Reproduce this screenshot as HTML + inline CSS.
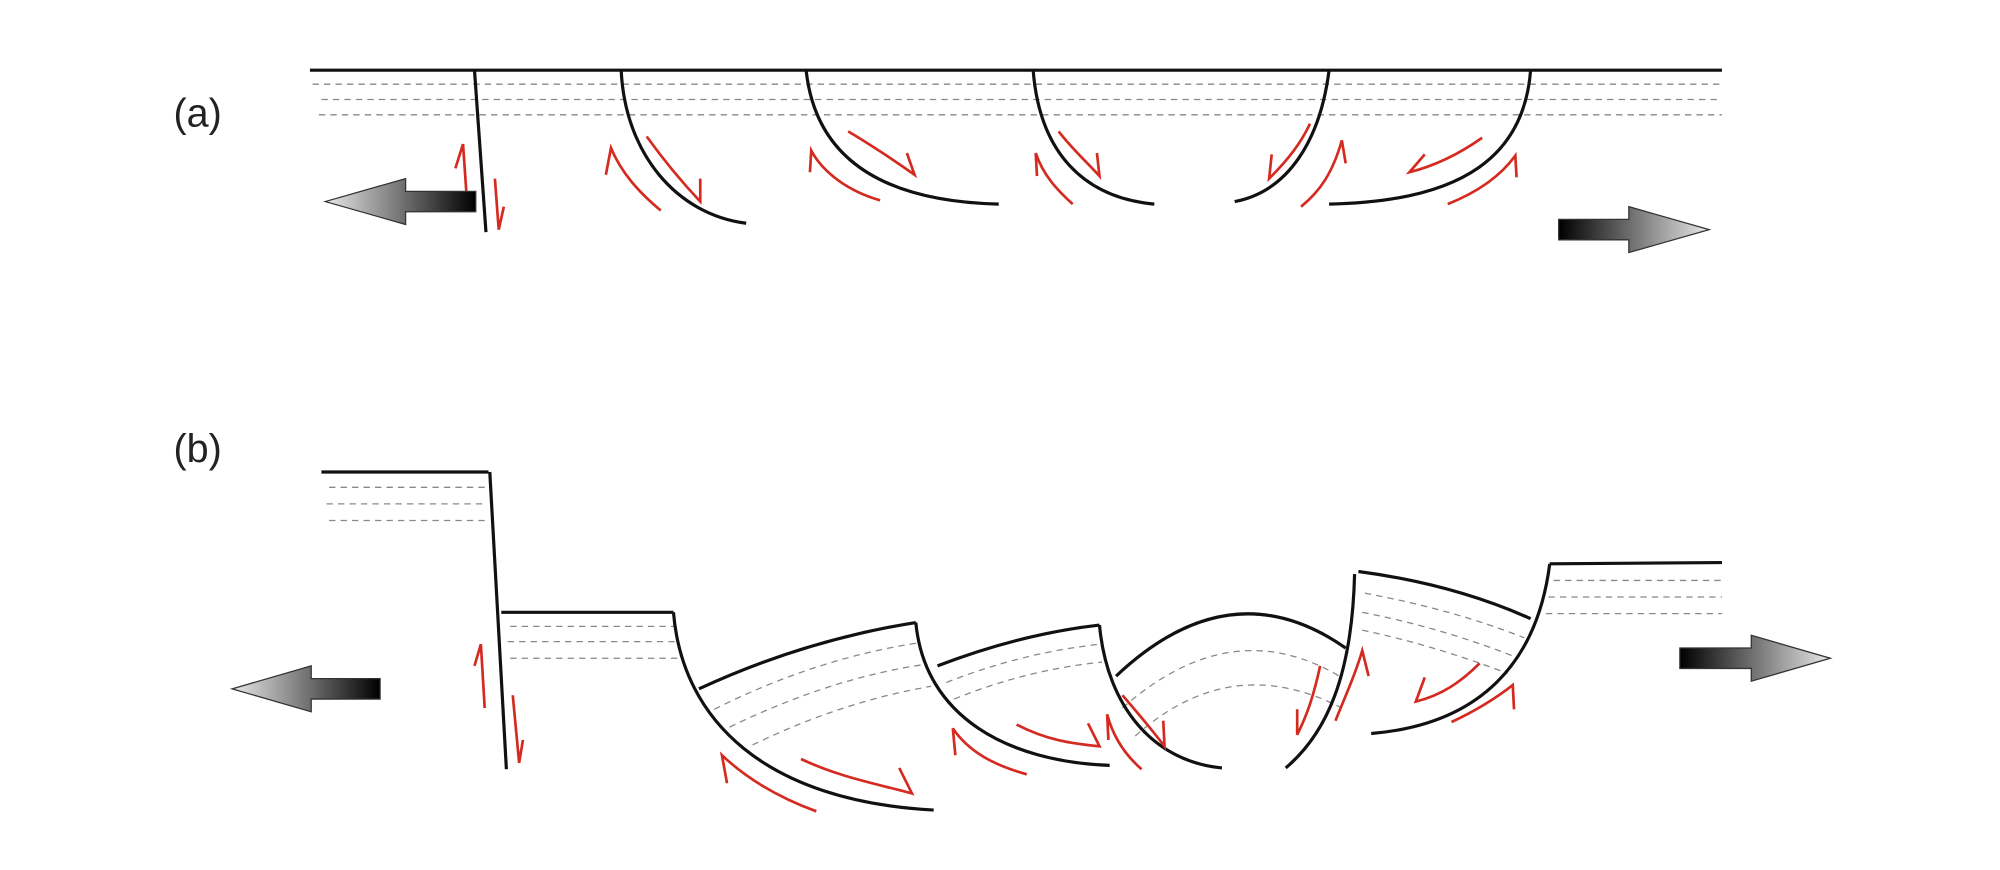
<!DOCTYPE html>
<html><head><meta charset="utf-8"><style>
html,body{margin:0;padding:0;background:#fff;width:2000px;height:870px;overflow:hidden}
svg{display:block}
</style></head><body>
<svg width="2000" height="870" viewBox="0 0 1568 682" preserveAspectRatio="none" xmlns="http://www.w3.org/2000/svg">
<defs>
<linearGradient id="gl" x1="0" x2="1" y1="0" y2="0"><stop offset="0" stop-color="#e8e8e8"/><stop offset="1" stop-color="#000"/></linearGradient>
<linearGradient id="gr" x1="0" x2="1" y1="0" y2="0"><stop offset="0" stop-color="#000"/><stop offset="1" stop-color="#e8e8e8"/></linearGradient>
</defs>
<g font-family="Liberation Sans, sans-serif" font-size="31" fill="#222">
<text x="136" y="99">(a)</text>
<text x="136" y="362">(b)</text>
</g>
<!-- (a) -->
<g fill="none" stroke="#888" stroke-width="1" stroke-dasharray="5,4">
<line x1="245" y1="66" x2="1350" y2="66"/>
<line x1="252" y1="78" x2="1350" y2="78"/>
<line x1="250" y1="90" x2="1350" y2="90"/>
</g>
<g fill="none" stroke="#111" stroke-width="2.5">
<line x1="243" y1="55" x2="1350" y2="55"/>
<line x1="372" y1="55" x2="381" y2="182"/>
<path d="M487,55 C490,120 530,168 585,175"/>
<path d="M632,55 C640,130 700,158 783,160"/>
<path d="M810,55 C815,120 850,155 905,160"/>
<path d="M968,158 C1010,150 1035,110 1042,55"/>
<path d="M1200,55 C1195,120 1150,158 1042,160"/>
</g>
<g fill="none" stroke="#d42a20" stroke-width="2.1">
<path d="M366,156 L363,113 L357,132"/>
<path d="M388,140 L391,180 L395,162"/>
<path d="M518,165 C500,150 487,135 479,116 L475,137"/>
<path d="M507,107 C520,125 532,140 549,158 L549,140"/>
<path d="M690,157 C665,150 645,135 636,118 L635,135"/>
<path d="M665,103 C685,115 700,125 717,137 L711,120"/>
<path d="M841,160 C830,150 818,138 812,120 L813,138"/>
<path d="M830,103 C840,116 850,125 862,138 L860,120"/>
<path d="M1027,97 C1020,112 1010,125 995,140 L997,121"/>
<path d="M1020,162 C1035,150 1045,135 1052,110 L1055,128"/>
<path d="M1162,108 C1145,120 1125,130 1105,135 L1117,121"/>
<path d="M1135,160 C1155,152 1175,140 1188,122 L1189,139"/>
</g>
<polygon points="255,158 318,140 318,150 373,150 373,166 318,166 318,176" fill="url(#gl)" stroke="#333" stroke-width="1"/>
<polygon points="1340,180 1277,162 1277,172 1222,172 1222,188 1277,188 1277,198" fill="url(#gr)" stroke="#333" stroke-width="1"/>
<!-- (b) -->
<g fill="none" stroke="#888" stroke-width="1" stroke-dasharray="5,4">
<line x1="258" y1="382" x2="381" y2="382"/>
<line x1="256" y1="395" x2="382" y2="395"/>
<line x1="258" y1="408" x2="383" y2="408"/>
<line x1="400" y1="491" x2="529" y2="491"/>
<line x1="398" y1="503" x2="531" y2="503"/>
<line x1="400" y1="516" x2="534" y2="516"/>
<path d="M560,556 Q640,516 720,504"/>
<path d="M572,570 Q650,532 724,521"/>
<path d="M590,584 Q660,550 730,538"/>
<path d="M742,535 Q800,512 862,505"/>
<path d="M748,548 Q805,525 864,519"/>
<path d="M880,555 Q965,480 1050,530"/>
<path d="M890,577 Q965,510 1052,555"/>
<path d="M1070,465 Q1140,478 1195,500"/>
<path d="M1068,480 Q1130,492 1188,515"/>
<path d="M1068,494 Q1125,506 1182,528"/>
<line x1="1218" y1="455" x2="1350" y2="455"/>
<line x1="1214" y1="468" x2="1350" y2="468"/>
<line x1="1212" y1="481" x2="1350" y2="481"/>
</g>
<g fill="none" stroke="#111" stroke-width="2.5">
<line x1="252" y1="370" x2="383" y2="370"/>
<line x1="384" y1="370" x2="397" y2="603"/>
<line x1="393" y1="480" x2="528" y2="480"/>
<path d="M528,480 C535,565 600,628 732,635"/>
<path d="M548,540 Q630,502 718,488"/>
<path d="M718,488 C725,562 790,597 870,600"/>
<path d="M735,522 Q800,497 862,490"/>
<path d="M862,490 C868,555 905,597 958,602"/>
<path d="M875,530 Q965,445 1055,508"/>
<path d="M1062,450 C1060,530 1040,575 1008,602"/>
<path d="M1065,448 Q1140,458 1200,485"/>
<path d="M1215,442 C1205,520 1160,568 1075,575"/>
<line x1="1215" y1="442" x2="1350" y2="441"/>
</g>
<g fill="none" stroke="#d42a20" stroke-width="2.1">
<path d="M380,555 L377,505 L372,522"/>
<path d="M402,545 L407,598 L410,580"/>
<path d="M640,636 C610,625 585,610 566,592 L570,614"/>
<path d="M628,595 C660,610 690,615 715,622 L705,602"/>
<path d="M805,607 C780,600 760,590 747,571 L749,592"/>
<path d="M797,568 C820,580 840,583 862,585 L853,567"/>
<path d="M895,603 C880,590 872,575 868,560 L869,580"/>
<path d="M880,545 C893,560 903,572 913,585 L912,565"/>
<path d="M1035,522 C1030,545 1025,560 1017,576 L1017,556"/>
<path d="M1047,565 C1055,545 1062,530 1068,510 L1073,530"/>
<path d="M1160,520 C1145,535 1130,545 1110,550 L1117,531"/>
<path d="M1138,566 C1155,558 1172,548 1186,537 L1187,556"/>
</g>
<polygon points="182,540 244,522 244,532 298,532 298,548 244,548 244,558" fill="url(#gl)" stroke="#333" stroke-width="1"/>
<polygon points="1435,516 1373,498 1373,508 1317,508 1317,524 1373,524 1373,534" fill="url(#gr)" stroke="#333" stroke-width="1"/>
</svg>
</body></html>
